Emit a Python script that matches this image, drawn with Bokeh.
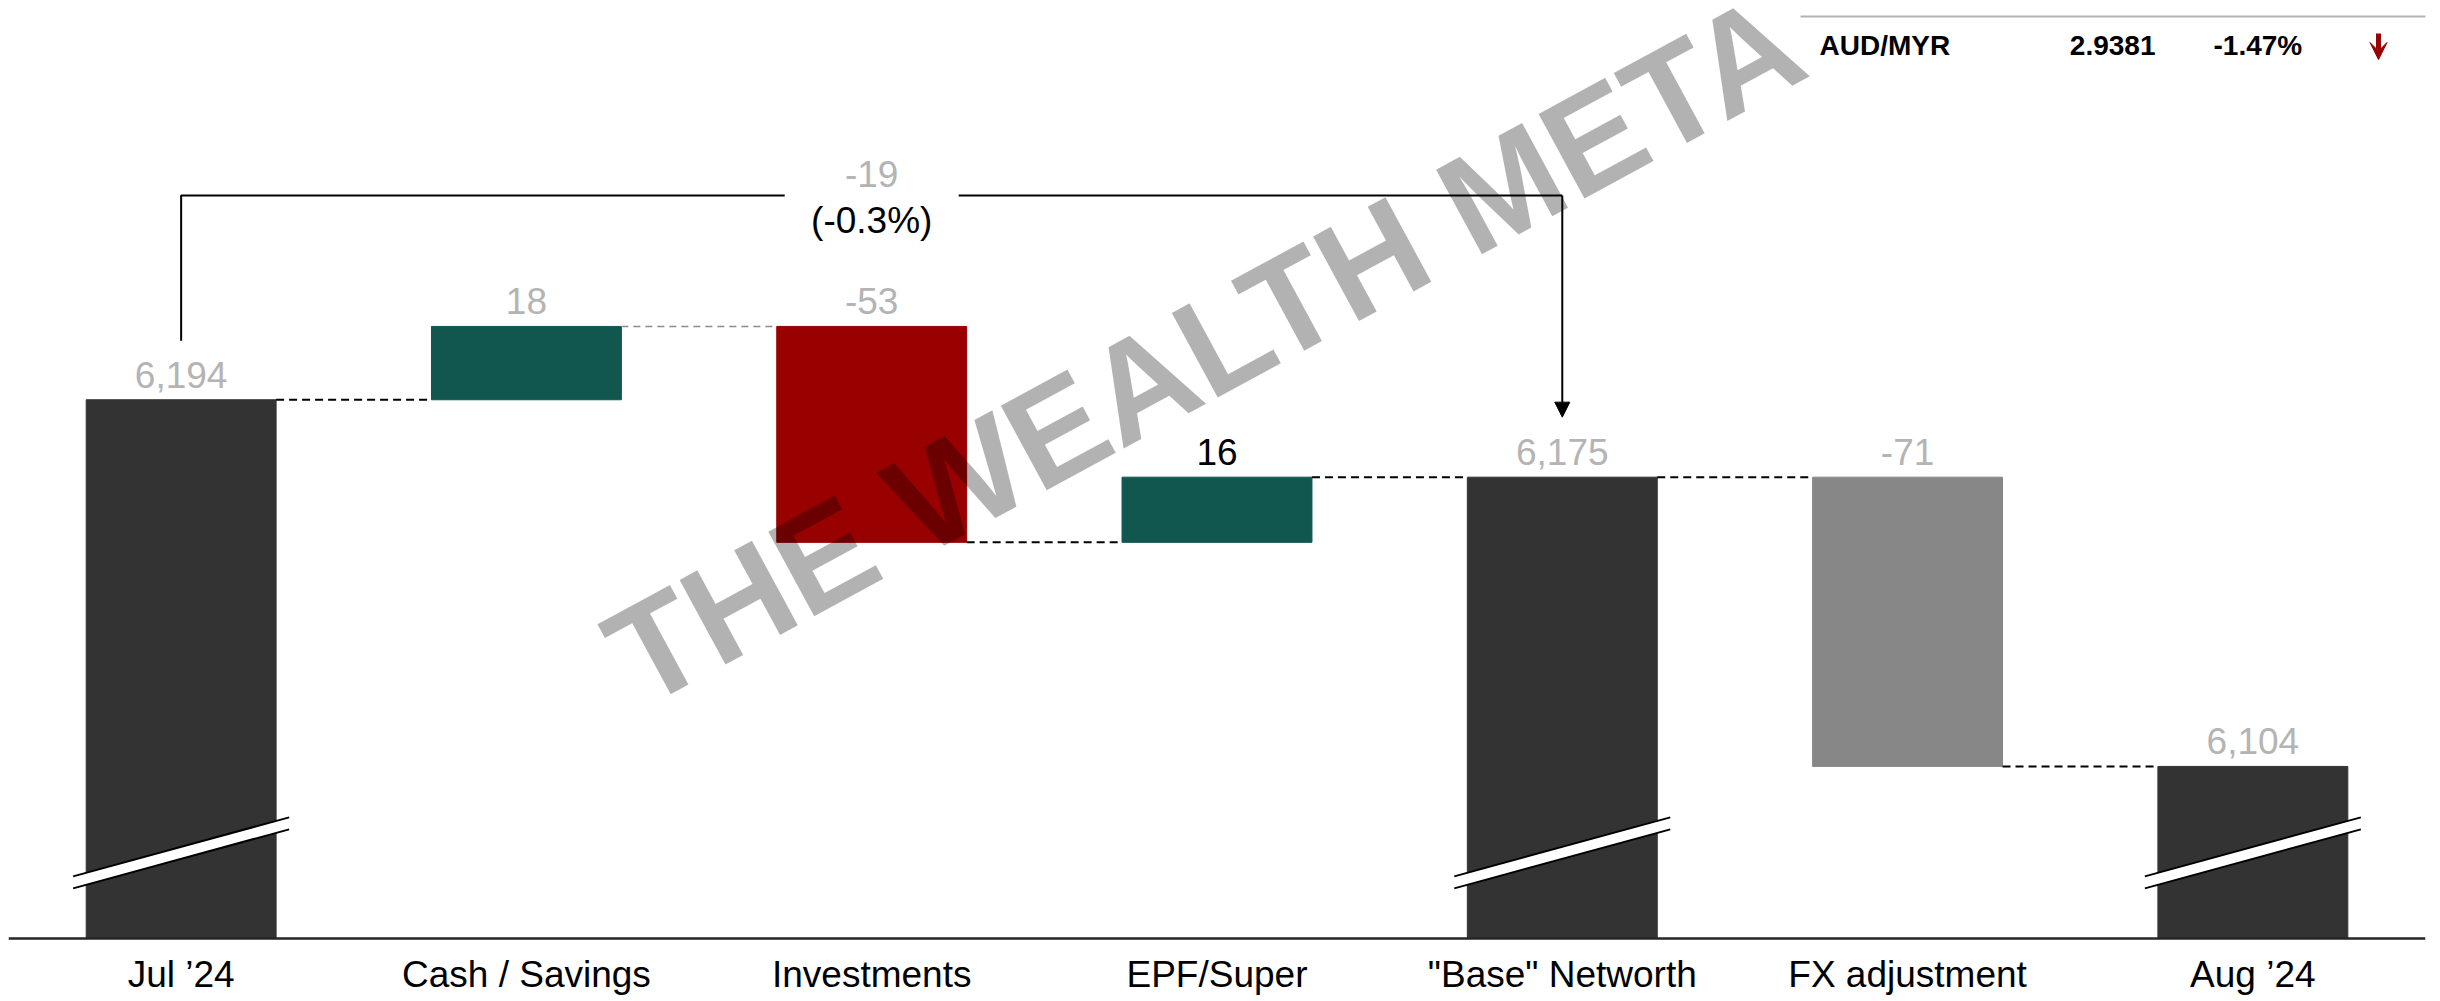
from bokeh.plotting import figure
from bokeh.models import FactorRange, Range1d, ColumnDataSource, Label, Arrow, NormalHead, VeeHead, BoxAnnotation
from bokeh.embed import file_html
from bokeh.resources import INLINE
from bokeh.core.properties import value

# ---------------- data ----------------
categories = ["Jul \u201924", "Cash / Savings", "Investments", "EPF/Super",
              "\"Base\" Networth", "FX adjustment", "Aug \u201924"]
start_value = 6194            # Jul '24 networth (label blurred in the source)
movements = [18, -53, 16]     # Cash / Savings, Investments, EPF/Super
fx_adjustment = -71
net_change_pct = "(-0.3%)"
fx_pair = "AUD/MYR"
fx_rate = "2.9381"
fx_change = "-1.47%"

# ---------------- styles / layout ----------------
FONT = "Liberation Sans"
TOTAL_C, POS_C, NEG_C, FX_C = "#333333", "#11574f", "#990000", "#878787"
BLUR_C = "#b4b4b4"
FIG_W, FIG_H = 2440, 1001
BORDER_LEFT, BORDER_RIGHT = 8, 15
FRAME_H = FIG_H
FRAME_W = FIG_W - BORDER_LEFT - BORDER_RIGHT
Y0 = 6061.8                   # value at the (broken) baseline
Y_LO, Y_HI = 6046.3, 6292.0   # visible value range of the frame
PPU_Y = FRAME_H / (Y_HI - Y_LO)
PPU_X = FRAME_W / len(categories)
BAR_W = 0.55
LABEL_PX = "37px"


def py(p):
    return p / PPU_Y


def px(p):
    return p / PPU_X


def sx(x_page):
    return x_page - BORDER_LEFT


def sy(y_page):
    return FRAME_H - y_page


# ---------------- derived waterfall geometry ----------------
base_value = start_value + sum(movements)
end_value = base_value + fx_adjustment
net_change = base_value - start_value

bottoms, tops, colors, texts, text_colors = [], [], [], [], []
bottoms.append(Y0); tops.append(start_value); colors.append(TOTAL_C)
texts.append(f"{start_value:,}"); text_colors.append(BLUR_C)
level = start_value
levels = [start_value]
for i, m in enumerate(movements):
    new = level + m
    bottoms.append(min(level, new)); tops.append(max(level, new))
    colors.append(POS_C if m > 0 else NEG_C)
    texts.append(f"{m}")
    text_colors.append("black" if i == 2 else BLUR_C)
    level = new
    levels.append(level)
bottoms.append(Y0); tops.append(base_value); colors.append(TOTAL_C)
texts.append(f"{base_value:,}"); text_colors.append(BLUR_C); levels.append(base_value)
bottoms.append(min(base_value, end_value)); tops.append(max(base_value, end_value)); colors.append(FX_C)
texts.append(f"{fx_adjustment}"); text_colors.append(BLUR_C); levels.append(end_value)
bottoms.append(Y0); tops.append(end_value); colors.append(TOTAL_C)
texts.append(f"{end_value:,}"); text_colors.append(BLUR_C)

src = ColumnDataSource(dict(x=categories, top=tops, bottom=bottoms, color=colors,
                            label=texts, label_color=text_colors))

p = figure(x_range=FactorRange(factors=categories), y_range=Range1d(Y_LO, Y_HI),
           width=FIG_W, height=FIG_H, output_backend="svg", toolbar_location=None,
           y_axis_location=None, min_border_left=BORDER_LEFT, min_border_top=0,
           min_border_right=BORDER_RIGHT, min_border_bottom=0)
p.outline_line_color = None
p.xgrid.visible = False
p.ygrid.visible = False
p.background_fill_color = "white"

p.vbar(x="x", top="top", bottom="bottom", width=BAR_W, fill_color="color",
       line_color="color", source=src)

# connectors
for i in range(len(categories) - 1):
    x0 = i + 0.5 + BAR_W / 2
    x1 = i + 1.5 - BAR_W / 2
    if i == 1:
        p.segment(x0=[x0], y0=[levels[i]], x1=[x1], y1=[levels[i]], line_color="#8c8c8c",
                  line_width=1.5, line_dash="7 5")
    else:
        p.segment(x0=[x0], y0=[levels[i]], x1=[x1], y1=[levels[i]], line_color="black",
                  line_width=2, line_dash="8 5")

# axis break marks on total bars
for i, c in enumerate(categories):
    if colors[i] == TOTAL_C:
        xc = i + 0.5
        xl, xr = xc - px(108), xc + px(108)
        p.patch(x=[xl, xr, xr, xl], y=[Y0 + py(62), Y0 + py(121), Y0 + py(109), Y0 + py(50)],
                fill_color="white", line_color=None)
        p.segment(x0=[xl, xl], y0=[Y0 + py(62), Y0 + py(50)], x1=[xr, xr],
                  y1=[Y0 + py(121), Y0 + py(109)], line_color="black", line_width=2)

# value labels
p.text(x="x", y="top", text="label", text_color="label_color", source=src,
       text_align="center", text_baseline="middle", y_offset=-25,
       text_font=value(FONT), text_font_size=LABEL_PX)

# bracket for net change
jul_x, base_x = 0.5, 4.5
mid_x = (jul_x + base_x) / 2
bracket_y = max(tops) + py(131)
gap = px(87)
p.multi_line(xs=[[jul_x, jul_x, mid_x - gap], [mid_x + gap, base_x]],
             ys=[[start_value + py(59), bracket_y, bracket_y], [bracket_y, bracket_y]],
             line_color="black", line_width=2)
p.add_layout(Arrow(x_start=base_x, y_start=bracket_y, x_end=base_x, y_end=base_value + py(60),
                   line_color="black", line_width=2,
                   end=NormalHead(size=15, fill_color="black", line_color="black")))
p.text(x=[mid_x], y=[bracket_y], text=[f"{net_change}"], text_color=BLUR_C,
       text_align="center", text_baseline="middle", y_offset=-21,
       text_font=value(FONT), text_font_size=LABEL_PX)
p.text(x=[mid_x], y=[bracket_y], text=[net_change_pct], text_color="black",
       text_align="center", text_baseline="middle", y_offset=25,
       text_font=value(FONT), text_font_size=LABEL_PX)

# watermark
p.add_layout(Label(x=sx(1204), y=sy(349), x_units="screen", y_units="screen",
                   text="THE WEALTH META", angle=0.497, angle_units="rad",
                   text_align="center", text_baseline="middle", text_font=FONT,
                   text_font_style="bold", text_font_size="140px",
                   text_color="black", text_alpha=0.3))

# FX header table
p.add_layout(BoxAnnotation(left=sx(1800), right=sx(2430), top=sy(15), bottom=sy(17),
                           left_units="screen", right_units="screen", top_units="screen",
                           bottom_units="screen", fill_color="#b4b4b4", fill_alpha=1,
                           line_color=None))
hy = sy(45)
for txt, xx, al in [(fx_pair, sx(1819), "left"), (fx_rate, sx(2155), "right"),
                    (fx_change, sx(2213), "left")]:
    p.add_layout(Label(x=xx, y=hy, x_units="screen", y_units="screen", text=txt,
                       text_align=al, text_baseline="middle", text_font=FONT,
                       text_font_style="bold", text_font_size="28px", text_color="black"))
p.add_layout(Arrow(x_start=sx(2378), y_start=sy(33), x_end=sx(2378), y_end=sy(59),
                   start_units="screen", end_units="screen", line_color="#990000", line_width=5,
                   end=VeeHead(size=17, fill_color="#990000", line_color="#990000", line_width=1)))

# x axis, pinned at the broken baseline
ax = p.xaxis[0]
ax.fixed_location = Y0
ax.axis_line_color = "#262626"
ax.axis_line_width = 2.5
ax.major_tick_line_color = None
ax.minor_tick_line_color = None
ax.major_tick_out = 0
ax.major_tick_in = 0
ax.major_label_standoff = 16
ax.major_label_text_font = FONT
ax.major_label_text_font_size = LABEL_PX
ax.major_label_text_color = "black"

open("out.html", "w").write(file_html(p, INLINE))
